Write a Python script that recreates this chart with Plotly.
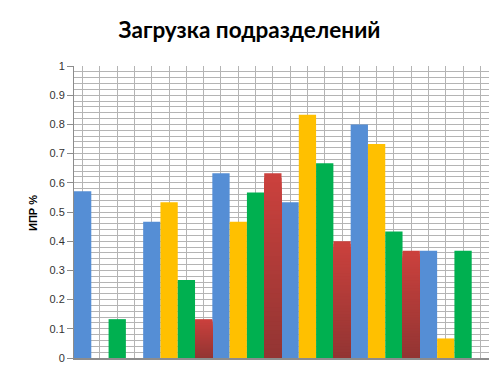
import plotly.graph_objects as go

# ---- data ----
categories = ["1", "2", "3", "4", "5", "6"]
series_names = ["Ряд 1", "Ряд 2", "Ряд 3", "Ряд 4"]
blue = [0.571, 0.467, 0.633, 0.533, 0.8, 0.367]
yellow = [0.0, 0.533, 0.467, 0.833, 0.733, 0.067]
green = [0.133, 0.267, 0.567, 0.667, 0.433, 0.367]
red = [0.0, 0.133, 0.633, 0.4, 0.367, 0.0]
y_ticks = [0, 0.1, 0.2, 0.3, 0.4, 0.5, 0.6, 0.7, 0.8, 0.9, 1]
y_tick_labels = ["0", "0.1", "0.2", "0.3", "0.4", "0.5", "0.6", "0.7", "0.8", "0.9", "1"]

title_text = "Загрузка подразделений"
y_title = "ИПР %"

# ---- styles ----
n_series = 4
flat_colors = ["#558ED5", "#FFC000", "#00B050"]
red_top = (203, 65, 61)
red_bottom = (147, 53, 51)
grid_color = "#B4B4B4"

fig = go.Figure()

def slot_x(series_idx):
    return [ci * n_series + series_idx for ci in range(len(categories))]

for si, (vals, col) in enumerate(zip([blue, yellow, green], flat_colors)):
    fig.add_trace(go.Bar(
        x=slot_x(si), y=vals, width=1, name=series_names[si],
        marker=dict(color=col, line=dict(width=0)),
    ))

# red series drawn with a vertical gradient (overlapping bars, top colour first)
N = 40
rx, ry, rc = [], [], []
for k in range(N):
    t = k / (N - 1)  # 0 -> top colour, 1 -> bottom colour
    r = round(red_top[0] + (red_bottom[0] - red_top[0]) * t)
    g = round(red_top[1] + (red_bottom[1] - red_top[1]) * t)
    b = round(red_top[2] + (red_bottom[2] - red_top[2]) * t)
    for xi, v in zip(slot_x(3), red):
        rx.append(xi)
        ry.append(v * (N - k) / N)
        rc.append(f"rgb({r},{g},{b})")
fig.add_trace(go.Bar(
    x=rx, y=ry, width=1, name=series_names[3],
    marker=dict(color=rc, line=dict(width=0)),
))

fig.update_layout(
    width=499, height=374,
    barmode="overlay",
    showlegend=False,
    paper_bgcolor="white",
    plot_bgcolor="white",
    margin=dict(l=74, r=10, t=66, b=12),
    title=dict(
        text=title_text,
        x=0.5, xanchor="center",
        y=1 - 30 / 374, yanchor="middle", yref="container",
        font=dict(family="Lato", size=22.5, color="#000000", weight="bold"),
    ),
    font=dict(family="Liberation Sans", size=11, color="#333333"),
)

fig.update_xaxes(
    range=[-0.5, len(categories) * n_series - 0.5],
    tick0=0, dtick=1,
    showticklabels=False,
    showgrid=True, gridcolor=grid_color, gridwidth=1,
    zeroline=False,
    showline=True, linecolor="#8C8C8C", linewidth=1.5,
    ticks="",
)

fig.update_yaxes(
    range=[0, 1],
    tickvals=y_ticks, ticktext=y_tick_labels,
    showgrid=True, gridcolor=grid_color, gridwidth=1,
    minor=dict(dtick=0.02, showgrid=True, gridcolor=grid_color, gridwidth=1),
    zeroline=False,
    showline=True, linecolor="#8C8C8C", linewidth=1,
    ticks="outside", ticklen=6, tickcolor="#8C8C8C",
    tickfont=dict(family="Liberation Sans", size=11, color="#333333"),
)

fig.add_annotation(
    text=y_title, textangle=-90,
    xref="paper", yref="paper",
    x=(33 - 74) / 415, y=0.5 - (214 - 213) / 295,
    xanchor="center", yanchor="middle",
    showarrow=False,
    font=dict(family="Liberation Sans", size=11, color="#000000", weight="bold"),
)

fig.write_html(
    "out.html",
    config={"displayModeBar": False},
    post_script="document.body.style.margin='0px';",
)
